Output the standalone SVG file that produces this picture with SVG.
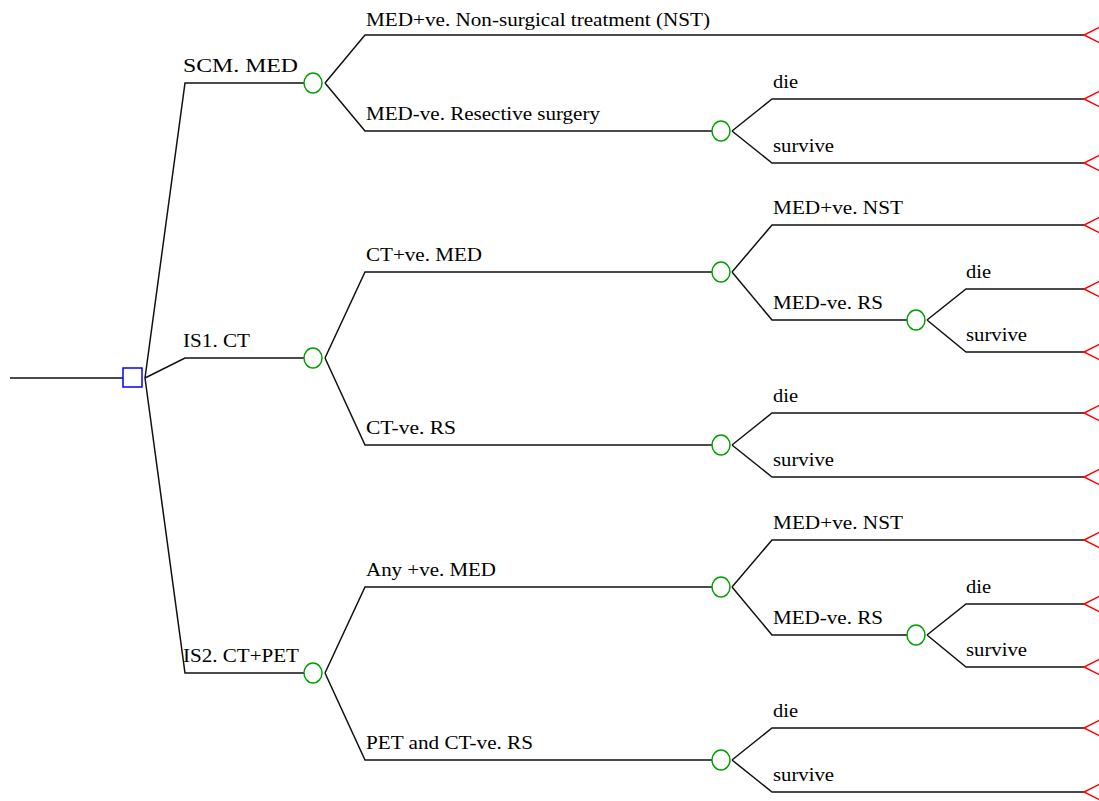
<svg xmlns="http://www.w3.org/2000/svg" width="1099" height="801" viewBox="0 0 1099 801">
<style>
.e{fill:none;stroke:#111;stroke-width:1.5}
.c{fill:#fff;stroke:#00a000;stroke-width:1.5}
.d{fill:#fff;stroke:#0000ff;stroke-width:1.5}
.t{fill:none;stroke:#ff0000;stroke-width:1.5}
text{font-family:"Liberation Serif","Times New Roman",serif;font-size:18px;fill:#000}
</style>
<rect width="1099" height="801" fill="#fff"/>
<g id="connectors">
<path class="e" d="M10,378H123"/>
<path class="e" d="M145,378L185,83H304M145,378L185,358H304M145,378L185,673H304"/>
<path class="e" d="M325,83L365,35H1084M325,83L365,131H712"/>
<path class="e" d="M732,131L772,99H1084M732,131L772,163H1084"/>
<path class="e" d="M325,358L365,272H712M325,358L365,445H712"/>
<path class="e" d="M732,272L772,225H1084M732,272L772,320H907"/>
<path class="e" d="M927,320L966,289H1084M927,320L966,352H1084"/>
<path class="e" d="M732,445L772,413H1084M732,445L772,477H1084"/>
<path class="e" d="M325,673L365,587H712M325,673L365,760H712"/>
<path class="e" d="M732,587L772,540H1084M732,587L772,635H907"/>
<path class="e" d="M927,635L966,604H1084M927,635L966,667H1084"/>
<path class="e" d="M732,760L772,728H1084M732,760L772,792H1084"/>
</g>
<g id="labels">
<text x="183" y="72" textLength="115" lengthAdjust="spacingAndGlyphs">SCM. MED</text>
<text x="183" y="347" textLength="67" lengthAdjust="spacingAndGlyphs">IS1. CT</text>
<text x="183" y="662" textLength="116" lengthAdjust="spacingAndGlyphs">IS2. CT+PET</text>
<text x="366" y="26" textLength="344" lengthAdjust="spacingAndGlyphs">MED+ve. Non-surgical treatment (NST)</text>
<text x="366" y="120" textLength="234" lengthAdjust="spacingAndGlyphs">MED-ve. Resective surgery</text>
<text x="773" y="88" textLength="25" lengthAdjust="spacingAndGlyphs">die</text>
<text x="773" y="152" textLength="61" lengthAdjust="spacingAndGlyphs">survive</text>
<text x="366" y="261" textLength="116" lengthAdjust="spacingAndGlyphs">CT+ve. MED</text>
<text x="773" y="214" textLength="130" lengthAdjust="spacingAndGlyphs">MED+ve. NST</text>
<text x="773" y="309" textLength="110" lengthAdjust="spacingAndGlyphs">MED-ve. RS</text>
<text x="966" y="278" textLength="25" lengthAdjust="spacingAndGlyphs">die</text>
<text x="966" y="341" textLength="61" lengthAdjust="spacingAndGlyphs">survive</text>
<text x="366" y="434" textLength="90" lengthAdjust="spacingAndGlyphs">CT-ve. RS</text>
<text x="773" y="402" textLength="25" lengthAdjust="spacingAndGlyphs">die</text>
<text x="773" y="466" textLength="61" lengthAdjust="spacingAndGlyphs">survive</text>
<text x="366" y="576" textLength="130" lengthAdjust="spacingAndGlyphs">Any +ve. MED</text>
<text x="773" y="529" textLength="130" lengthAdjust="spacingAndGlyphs">MED+ve. NST</text>
<text x="773" y="624" textLength="110" lengthAdjust="spacingAndGlyphs">MED-ve. RS</text>
<text x="966" y="593" textLength="25" lengthAdjust="spacingAndGlyphs">die</text>
<text x="966" y="656" textLength="61" lengthAdjust="spacingAndGlyphs">survive</text>
<text x="366" y="749" textLength="167" lengthAdjust="spacingAndGlyphs">PET and CT-ve. RS</text>
<text x="773" y="717" textLength="25" lengthAdjust="spacingAndGlyphs">die</text>
<text x="773" y="781" textLength="61" lengthAdjust="spacingAndGlyphs">survive</text>
</g>
<g id="decision"><rect class="d" x="123" y="368" width="19" height="19"/></g>
<g id="chance-scm"><ellipse class="c" cx="313" cy="83" rx="9" ry="10"/></g>
<g id="chance-is1"><ellipse class="c" cx="313" cy="358" rx="9" ry="10"/></g>
<g id="chance-is2"><ellipse class="c" cx="313" cy="673" rx="9" ry="10"/></g>
<g id="chance-scm-neg"><ellipse class="c" cx="721" cy="131" rx="9" ry="10"/></g>
<g id="chance-ct-pos"><ellipse class="c" cx="721" cy="272" rx="9" ry="10"/></g>
<g id="chance-ct-pos-neg"><ellipse class="c" cx="916" cy="320" rx="9" ry="10"/></g>
<g id="chance-ct-neg"><ellipse class="c" cx="721" cy="445" rx="9" ry="10"/></g>
<g id="chance-any-pos"><ellipse class="c" cx="721" cy="587" rx="9" ry="10"/></g>
<g id="chance-any-pos-neg"><ellipse class="c" cx="916" cy="635" rx="9" ry="10"/></g>
<g id="chance-pet-neg"><ellipse class="c" cx="721" cy="760" rx="9" ry="10"/></g>
<g id="terminals">
<path class="t" d="M1100,27L1084,35L1100,43"/>
<path class="t" d="M1100,91L1084,99L1100,107"/>
<path class="t" d="M1100,155L1084,163L1100,171"/>
<path class="t" d="M1100,217L1084,225L1100,233"/>
<path class="t" d="M1100,281L1084,289L1100,297"/>
<path class="t" d="M1100,344L1084,352L1100,360"/>
<path class="t" d="M1100,405L1084,413L1100,421"/>
<path class="t" d="M1100,469L1084,477L1100,485"/>
<path class="t" d="M1100,532L1084,540L1100,548"/>
<path class="t" d="M1100,596L1084,604L1100,612"/>
<path class="t" d="M1100,659L1084,667L1100,675"/>
<path class="t" d="M1100,720L1084,728L1100,736"/>
<path class="t" d="M1100,784L1084,792L1100,800"/>
</g>
</svg>
